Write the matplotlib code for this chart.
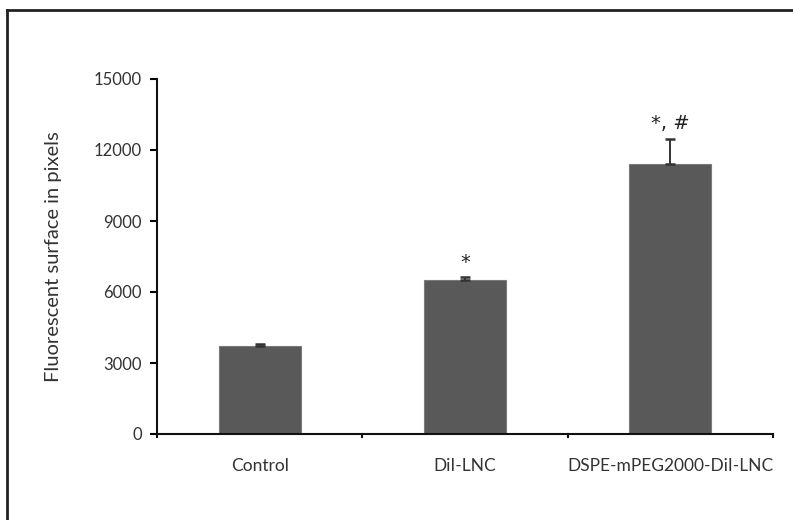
import numpy as np
import matplotlib.pyplot as plt
from matplotlib.lines import Line2D

# group names, means, upper error and significance marks
groups = ['Control', 'DiI-LNC', 'DSPE-mPEG2000-DiI-LNC']
means = [3700, 6500, 11400]
errors = [120, 120, 1070]
marks = ['', '*', '*, #']
y_ticks = [0, 3000, 6000, 9000, 12000, 15000]

plt.rcParams['font.family'] = ['Lato', 'DejaVu Sans']

fig = plt.figure(figsize=(7.93, 5.2), dpi=100)
ax = fig.add_axes([157 / 793, 1 - 434 / 520, 616 / 793, 355 / 520])

x = np.arange(len(groups)) + 0.5
ax.bar(x, means, width=0.4, color='#595959', edgecolor='#7a7a7a', linewidth=0.8, zorder=2)
ax.errorbar(x, means, yerr=[np.zeros(len(errors)), errors], fmt='none',
            ecolor='#333333', elinewidth=1.4, capsize=3.5, capthick=1.8, zorder=3)

for xi, m, e, s in zip(x, means, errors, marks):
    if s:
        ax.annotate(s, (xi, m + e), xytext=(0, 4), textcoords='offset points',
                    ha='center', va='bottom', fontsize=14, color='#222222',
                    family='DejaVu Sans')

ax.set_xlim(0, 3)
ax.set_ylim(0, 15000)
ax.set_yticks(y_ticks)
ax.set_xticks([0, 1, 2, 3])
ax.set_xticklabels([])
ax.set_xticks(x, minor=True)
ax.set_xticklabels(groups, minor=True)
ax.tick_params(axis='x', which='minor', length=0, pad=17, labelsize=12.5, labelcolor='#333333')
ax.tick_params(axis='x', which='major', direction='in', length=0)
ax.tick_params(axis='y', direction='out', length=5, width=1.5, pad=6, labelsize=12, labelcolor='#333333')

for side in ['top', 'right']:
    ax.spines[side].set_visible(False)
for side in ['left', 'bottom']:
    ax.spines[side].set_linewidth(1.5)
    ax.spines[side].set_color('#111111')

# small downward ticks on the category axis
for t in [0, 1, 2, 3]:
    ax.plot([t, t], [0, -120], color='#111111', lw=1.5, clip_on=False)

ax.set_ylabel('Fluorescent surface in pixels', fontsize=14.5, color='#333333')
ax.yaxis.set_label_coords(-0.155, 0.5)

# outer frame
fig.add_artist(Line2D([7 / 793, 1], [1 - 10 / 520] * 2, color='#222222', lw=2))
fig.add_artist(Line2D([7 / 793] * 2, [0, 1 - 10 / 520], color='#222222', lw=2))

fig.savefig('out.png', dpi=100)
